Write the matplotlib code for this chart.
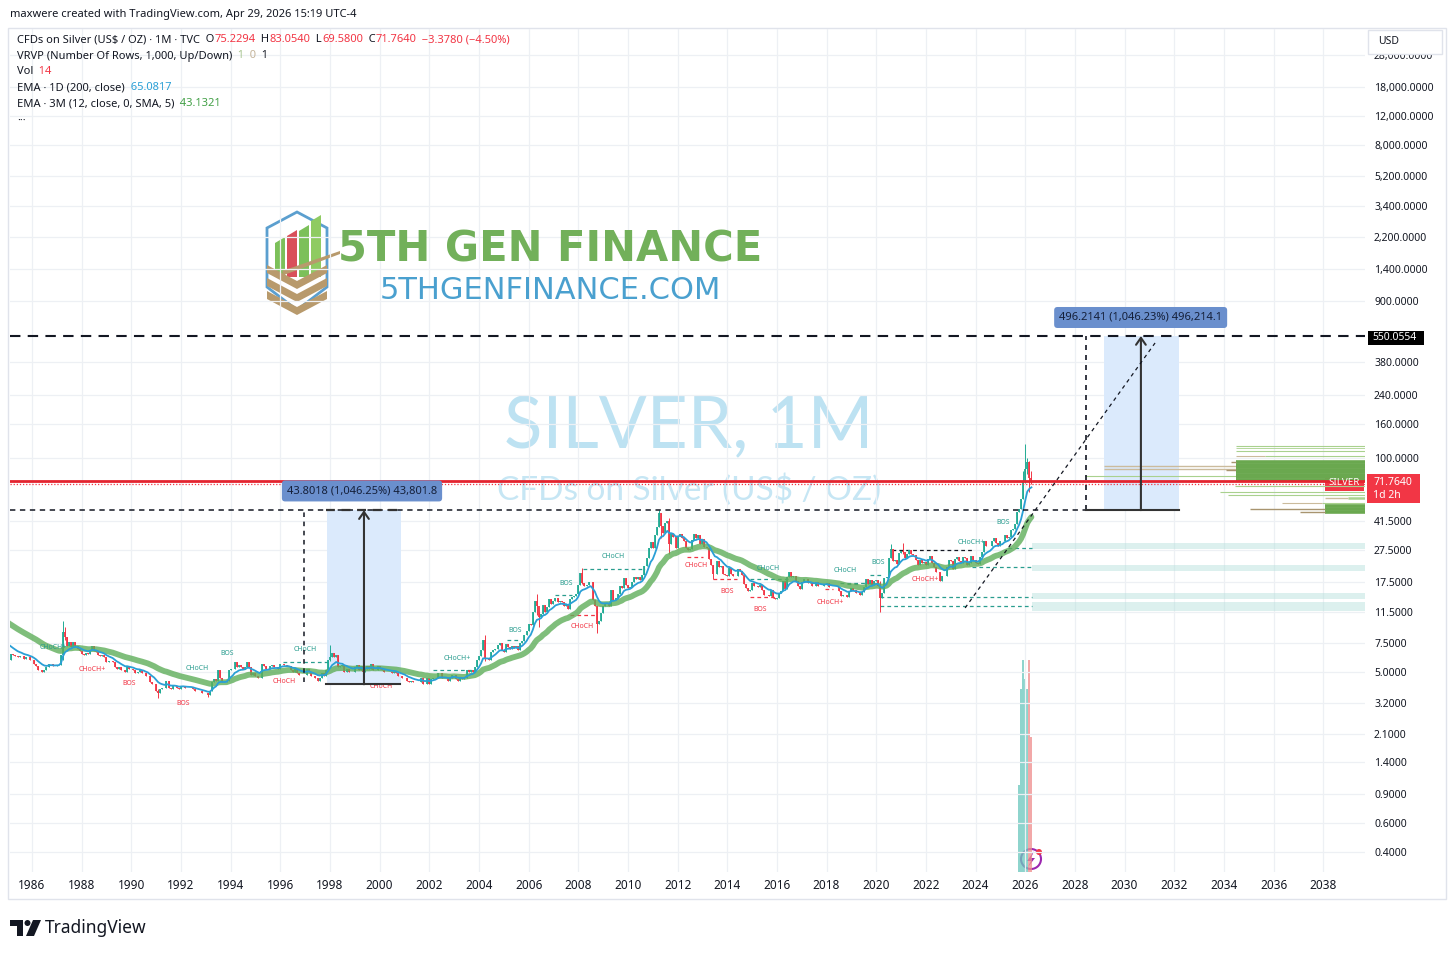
import numpy as np
import pandas as pd
import matplotlib
matplotlib.use('Agg')
import matplotlib.pyplot as plt
from matplotlib.patches import Rectangle, Polygon, Circle
from matplotlib.transforms import IdentityTransform
from matplotlib.offsetbox import TextArea, HPacker, AnnotationBbox
from matplotlib.ticker import NullLocator, NullFormatter

W, H = 1456, 957
plt.rcParams['font.family'] = ['Noto Sans', 'DejaVu Sans']

# monthly closes, TVC silver, starting Jan 1983 (1983-84 only warm the EMAs up)
first_year = 1983
closes = [
    13.3, 14.3, 10.9, 12.6, 12.6, 11.0, 11.6, 12.0, 11.9, 9.2, 9.3, 9.1,   # 1983
    8.5, 9.6, 10.0, 9.2, 9.0, 8.8, 7.3, 7.8, 7.4, 7.3, 7.6, 6.4,          # 1984
    6.2, 5.9, 6.4, 6.3, 6.2, 6.1, 6.2, 6.2, 6.0, 6.1, 6.1, 5.9,           # 1985
    5.9, 5.6, 5.4, 5.1, 5.1, 5.0, 5.1, 5.3, 5.6, 5.6, 5.4, 5.4,           # 1986
    5.5, 5.5, 6.3, 8.7, 8.1, 7.2, 7.6, 7.1, 7.6, 7.2, 6.9, 6.7,           # 1987
    6.4, 6.3, 6.5, 6.4, 6.8, 7.2, 6.7, 6.6, 6.3, 6.2, 6.3, 6.1,           # 1988
    5.7, 5.8, 5.8, 5.7, 5.3, 5.2, 5.3, 5.1, 5.1, 5.0, 5.4, 5.2,           # 1989
    5.2, 5.1, 4.9, 5.0, 5.1, 4.9, 4.9, 4.7, 4.7, 4.3, 4.2, 4.2,           # 1990
    3.8, 3.7, 3.9, 4.0, 4.0, 4.4, 4.0, 3.9, 4.1, 4.1, 4.0, 3.9,           # 1991
    4.1, 4.1, 4.0, 4.0, 4.0, 4.0, 3.9, 3.8, 3.8, 3.8, 3.7, 3.7,           # 1992
    3.7, 3.6, 3.8, 4.3, 4.5, 4.4, 5.1, 4.6, 4.3, 4.3, 4.4, 5.1,           # 1993
    5.2, 5.2, 5.7, 5.3, 5.5, 5.3, 5.2, 5.3, 5.7, 5.3, 4.8, 4.9,           # 1994
    4.7, 4.6, 4.6, 5.6, 5.4, 5.2, 5.2, 5.4, 5.5, 5.3, 5.3, 5.2,           # 1995
    5.6, 5.6, 5.5, 5.4, 5.4, 5.1, 5.0, 5.2, 4.9, 4.8, 4.8, 4.8,           # 1996
    4.8, 5.2, 5.0, 4.7, 4.7, 4.6, 4.4, 4.6, 4.9, 4.7, 5.1, 5.9,           # 1997
    6.1, 6.5, 6.1, 6.3, 5.3, 5.4, 5.5, 5.0, 5.2, 5.0, 5.0, 5.0,           # 1998
    5.3, 5.5, 5.1, 5.4, 5.0, 5.2, 5.4, 5.2, 5.6, 5.1, 5.1, 5.4,           # 1999
    5.2, 5.1, 5.0, 5.0, 5.0, 5.0, 4.9, 5.0, 4.9, 4.7, 4.7, 4.6,           # 2000
    4.6, 4.4, 4.3, 4.4, 4.3, 4.3, 4.3, 4.3, 4.6, 4.2, 4.2, 4.6,           # 2001
    4.2, 4.5, 4.6, 4.6, 4.9, 4.9, 4.6, 4.6, 4.6, 4.4, 4.6, 4.8,           # 2002
    4.8, 4.5, 4.4, 4.6, 4.5, 4.6, 5.1, 5.0, 5.1, 5.0, 5.3, 5.9,           # 2003
    6.2, 6.8, 7.8, 6.0, 6.0, 5.9, 6.6, 6.8, 6.9, 7.3, 7.5, 6.8,           # 2004
    6.6, 7.4, 7.1, 6.9, 7.2, 7.0, 7.2, 6.8, 7.5, 7.7, 8.3, 8.8,           # 2005
    9.8, 9.6, 11.5, 13.4, 12.6, 10.8, 11.2, 12.7, 11.5, 12.4, 13.9, 12.9,  # 2006
    13.5, 14.1, 13.3, 13.4, 13.2, 12.5, 12.9, 12.0, 13.8, 14.2, 14.4, 14.8,  # 2007
    16.8, 19.9, 17.2, 16.5, 16.9, 17.5, 17.6, 13.6, 12.6, 9.7, 10.2, 11.3,  # 2008
    12.6, 13.1, 13.1, 12.5, 15.6, 13.6, 14.0, 14.9, 16.6, 16.2, 18.6, 16.9,  # 2009
    16.2, 16.4, 17.5, 18.7, 18.4, 18.7, 18.0, 19.4, 22.1, 24.7, 28.4, 30.9,  # 2010
    28.2, 34.0, 37.9, 46.0, 38.5, 34.9, 40.0, 41.5, 29.9, 34.6, 32.8, 28.2,  # 2011
    33.2, 34.6, 32.4, 31.2, 28.4, 27.4, 27.9, 31.6, 34.6, 32.3, 34.0, 30.0,  # 2012
    31.9, 28.5, 28.3, 24.1, 22.3, 19.7, 19.7, 23.6, 21.7, 21.9, 19.5, 19.4,  # 2013
    19.2, 21.3, 19.7, 19.0, 19.0, 21.0, 20.4, 19.4, 17.1, 16.2, 15.5, 15.6,  # 2014
    17.2, 16.6, 16.6, 16.3, 16.8, 15.6, 14.7, 14.6, 14.5, 15.6, 14.1, 13.8,  # 2015
    14.1, 15.0, 15.4, 17.9, 16.0, 18.7, 20.3, 18.7, 19.2, 17.7, 16.5, 16.0,  # 2016
    17.5, 18.4, 18.2, 17.3, 17.5, 16.6, 16.7, 17.6, 16.6, 16.7, 16.5, 16.9,  # 2017
    17.3, 16.4, 16.3, 16.3, 16.4, 16.3, 15.5, 14.5, 14.6, 14.7, 14.2, 15.5,  # 2018
    16.1, 15.6, 15.1, 15.0, 14.6, 15.3, 16.4, 18.4, 17.0, 18.1, 16.9, 17.9,  # 2019
    18.0, 16.7, 14.0, 15.0, 18.6, 18.7, 24.4, 28.0, 23.7, 23.9, 22.6, 26.4,  # 2020
    26.9, 26.7, 24.5, 25.9, 27.5, 26.0, 25.5, 24.0, 22.2, 24.0, 23.0, 23.3,  # 2021
    22.4, 24.3, 25.1, 23.0, 21.6, 20.3, 20.3, 17.8, 19.0, 19.2, 21.5, 24.0,  # 2022
    23.6, 20.9, 24.1, 25.0, 23.6, 22.8, 24.8, 24.5, 22.2, 22.9, 25.3, 23.8,  # 2023
    23.0, 22.7, 24.9, 26.6, 31.3, 29.1, 28.9, 28.9, 31.2, 32.7, 30.5, 28.9,  # 2024
    31.3, 31.1, 34.1, 32.6, 33.0, 36.1, 36.7, 39.7, 46.6, 48.7, 56.4, 71.0,  # 2025
    85.0, 93.9, 75.2294, 71.764,                                            # 2026
]

# wick extremes that stand out on the chart: month -> (high, low)
wicks = {
    '1987-04': (10.1, 5.9), '1987-05': (9.3, 7.8), '1991-02': (3.9, 3.46),
    '1993-02': (3.7, 3.5), '1998-01': (7.3, 5.8), '2004-04': (8.3, 5.8),
    '2006-05': (14.9, 11.0), '2006-06': (11.6, 9.4), '2008-03': (21.2, 17.0),
    '2008-10': (12.5, 8.6), '2011-04': (47.99, 37.8), '2011-05': (46.0, 32.5),
    '2011-09': (43.0, 26.1), '2013-06': (22.3, 18.2), '2020-03': (17.9, 11.5),
    '2020-08': (29.8, 24.6), '2021-02': (30.1, 25.8), '2025-12': (83.0, 56.0),
    '2026-01': (120.5, 70.5), '2026-02': (99.5, 80.0), '2026-03': (95.0, 62.0),
    '2026-04': (83.054, 69.58),
}

# volume (only the CFD's recent months carry volume), Oct 2025 .. Apr 2026
vol_start = 2025 + 9 / 12
vol_values = [9, 19, 22, 20, 19, 22, 14]

# visible range volume profile rows (price, up volume, down volume)
vp_price = [118, 114, 110, 102.5, 89.5, 86.0, 77.5, 67.1, 62.1, 59.4, 52.9,
            94.2, 90.9, 87.8, 84.7, 81.7, 78.9, 76.1, 73.4, 56.6, 50.9, 48.6, 46.6]
vp_up = [129, 129, 129, 100, 0, 0, 280, 130, 145, 137, 43,
         129, 129, 129, 129, 129, 129, 129, 129, 17, 40, 40, 40]
vp_down = [0, 0, 0, 29, 261, 261, 0, 0, 0, 0, 40,
           5, 0, 0, 10, 0, 0, 0, 0, 23, 0, 75, 25]
vp_lw = [0.8, 0.6, 0.8, 0.8, 1.0, 1.0, 0.8, 0.8, 0.8, 0.8, 0.8,
         2.6, 2.6, 2.6, 2.6, 2.6, 2.6, 2.6, 2.6, 1.8, 2.6, 2.6, 2.6]

# smart money concept labels
lab_year = [1986.85, 1992.65, 1993.85, 1996.99, 2003.12, 2005.45, 2007.51, 2009.40,
            2015.64, 2018.74, 2020.07, 2023.82, 2025.11,
            1988.42, 1989.91, 1992.08, 1996.15, 2000.06, 2008.15, 2012.74,
            2013.99, 2015.32, 2018.14, 2021.96]
lab_price = [6.97, 5.19, 6.40, 6.77, 5.97, 8.84, 17.1, 24.9, 21.3, 20.5, 22.9, 30.3, 40.1,
             5.12, 4.21, 3.22, 4.33, 4.05, 9.35, 22.0, 15.3, 11.9, 13.1, 18.1]
lab_text = ['CHoCH+', 'CHoCH', 'BOS', 'CHoCH', 'CHoCH+', 'BOS', 'BOS', 'CHoCH',
            'CHoCH', 'CHoCH', 'BOS', 'CHoCH+', 'BOS',
            'CHoCH+', 'BOS', 'BOS', 'CHoCH', 'CHoCH', 'CHoCH', 'CHoCH',
            'BOS', 'BOS', 'CHoCH+', 'CHoCH+']
lab_bull = [True] * 13 + [False] * 11

# structure levels (start, end, price, kind)
seg_x0 = [1996.11, 2002.15, 2005.13, 2007.06, 2007.67, 2008.19, 2012.38, 2013.43, 2014.92,
          2014.92, 2017.94, 2018.82, 2019.75, 2020.64, 2025.31, 2023.86, 2020.15, 2020.15, 2018.54]
seg_x1 = [1997.92, 2003.84, 2005.65, 2007.75, 2008.67, 2010.69, 2013.02, 2014.39, 2015.92,
          2016.45, 2018.26, 2019.35, 2020.27, 2023.90, 2026.27, 2026.27, 2026.27, 2026.27, 2019.87]
seg_price = [5.72, 5.1, 7.8, 14.6, 11.06, 21.1, 25.0, 18.2, 14.2,
             18.2, 16.0, 17.1, 19.4, 27.5, 28.2, 21.7, 14.3, 12.5, 17.3]
seg_kind = ['bull', 'bull', 'bull', 'bull', 'bear', 'bull', 'bear', 'bear', 'bear',
            'bull', 'bear', 'bull', 'bull', 'black', 'bull', 'bull', 'bull', 'bull', 'bull']

# order block zones (low, high), from 2026.27 to the right edge
zone_low = [27.9, 20.5, 13.8, 11.7]
zone_high = [30.3, 22.3, 15.0, 13.3]

# measure tool drawings
m1_low, m1_high = 4.1866, 47.99
m2_low, m2_high = 47.99, 550.0554
last_price, last_low = 71.764, 69.58

price_ticks = [0.4, 0.6, 0.9, 1.4, 2.1, 3.2, 5.0, 7.5, 11.5, 17.5, 27.5, 41.5, 100, 160,
               240, 380, 900, 1400, 2200, 3400, 5200, 8000, 12000, 18000, 28000]
year_ticks = list(range(1986, 2039, 2))

UP, DOWN, DARK = '#22ab94', '#f23645', '#131722'
TEAL_LAB = '#2a9d8f'

# ---------------------------------------------------------------- series
n = len(closes)
t = first_year + np.arange(n) / 12
c = np.array(closes)
o = np.r_[c[0], c[:-1]]
hi = np.maximum(o, c)
lo = np.minimum(o, c)
keys = ['%d-%02d' % (first_year + i // 12, i % 12 + 1) for i in range(n)]
for i, k in enumerate(keys):
    if k in wicks:
        hi[i], lo[i] = wicks[k]
s = pd.Series(c)
ema_fast = s.ewm(alpha=0.19, adjust=False).mean().values
ema_slow = s.ewm(span=36, adjust=False).mean().values
vis = t >= 1985.0

x_left, x_right = 1985.114, 2039.685
px_year = 24.83

fig = plt.figure(figsize=(W / 100, H / 100), dpi=100)
PIX = IdentityTransform()


def box(x0, y0, x1, y1):
    return [x0 / W, 1 - y1 / H, (x1 - x0) / W, (y1 - y0) / H]


def frect(x0, y0, x1, y1, **kw):
    r = Rectangle((x0, H - y1), x1 - x0, y1 - y0, transform=PIX, **kw)
    fig.add_artist(r)
    return r


def fcircle(x, y, r, **kw):
    fig.add_artist(Circle((x, H - y), r, transform=PIX, **kw))


def ftext(x, y, s, **kw):
    return fig.text(x / W, 1 - y / H, s, **kw)


def fpoly(pts, **kw):
    p = Polygon([(x, H - y) for x, y in pts], closed=True, transform=PIX, **kw)
    fig.add_artist(p)


axv = fig.add_axes(box(10, 29, 1365, 872))
ax = fig.add_axes(box(10, 29, 1365, 872))
axv.set_zorder(1)
ax.set_zorder(2)
ax.patch.set_alpha(0)
axv.axis('off')

# volume
vt = vol_start + np.arange(len(vol_values)) / 12
vi = [np.argmin(np.abs(t - x)) for x in vt]
vcol = ['#6cc8be' if c[i] >= o[i] else '#ef8e8e' for i in vi]
axv.vlines(vt, 0, vol_values, colors=vcol, lw=1.1)
axv.set_xlim(x_left, x_right)
axv.set_ylim(0, 87.4)

ax.set_yscale('log')
ax.set_xlim(x_left, x_right)
ax.set_ylim(0.302, 40550)

# watermark
ax.text(0.501, 0.527, 'SILVER, 1M', transform=ax.transAxes, ha='center', va='center',
        fontsize=51, color='#bde2f2', family='Lato', zorder=0.5)
ax.text(0.501, 0.4537, 'CFDs on Silver (US\\$ / OZ)', transform=ax.transAxes, ha='center',
        va='center', fontsize=24, color='#c6e6f4', family='Lato', zorder=0.5)

# grid
ax.set_yticks(price_ticks)
ax.yaxis.set_minor_locator(NullLocator())
ax.yaxis.set_minor_formatter(NullFormatter())
ax.set_yticklabels(['{:,.4f}'.format(v) for v in price_ticks])
ax.yaxis.tick_right()
ax.set_xticks(year_ticks)
ax.set_xticklabels([str(y) for y in year_ticks])
ax.tick_params(axis='y', length=0, pad=6.5, labelsize=7.5, labelcolor=DARK)
ax.tick_params(axis='x', length=0, pad=5, labelsize=8.5, labelcolor=DARK)
ax.grid(True, color='#edf0f4', lw=0.9)
ax.set_axisbelow(True)
for sp in ax.spines.values():
    sp.set_visible(False)

# order block zones and structure levels
for zl, zh in zip(zone_low, zone_high):
    ax.add_patch(Rectangle((2026.27, zl), x_right - 2026.27, zh - zl, color='#b2dfdb',
                           alpha=0.45, lw=0, zorder=1))
seg_col = {'bull': TEAL_LAB, 'bear': DOWN, 'black': DARK}
for x0, x1, p, k in zip(seg_x0, seg_x1, seg_price, seg_kind):
    ax.plot([x0, x1], [p, p], color=seg_col[k], lw=0.9, dashes=(3, 2.5), zorder=2)

# measure rectangles
ax.add_patch(Rectangle((1997.88, m1_low), 2.98, m1_high - m1_low, color='#dbeafc', lw=0, zorder=1))
ax.add_patch(Rectangle((2029.17, m2_low), 3.02, m2_high - m2_low, color='#dbeafc', lw=0, zorder=1))

# volume profile
for p, u, d, w in sorted(zip(vp_price, vp_up, vp_down, vp_lw), key=lambda r: r[3]):
    strong = w >= 2
    g = '#6aa84f' if strong else '#a9d18e'
    tcol = '#a8946f' if strong else '#cbbb9c'
    if u:
        ax.plot([x_right - u / px_year, x_right], [p, p], color=g, lw=w, solid_capstyle='butt', zorder=2)
    if d:
        ax.plot([x_right - (u + d) / px_year, x_right - u / px_year], [p, p], color=tcol,
                lw=min(w, 1.0), solid_capstyle='butt', zorder=2)

# candles
up = (c >= o) & vis
dn = (c < o) & vis
for m, col in ((up, UP), (dn, DOWN)):
    ax.vlines(t[m], lo[m], hi[m], color=col, lw=0.7, zorder=3)
    ax.vlines(t[m], o[m], c[m], color=col, lw=1.3, zorder=3)

ax.plot(t[vis], ema_slow[vis], color='#5fae5a', lw=4.2, alpha=0.8, zorder=4, solid_capstyle='round')
ax.plot(t[vis], ema_fast[vis], color='#2a9fd6', lw=1.3, zorder=5)

for x, p, s_, b in zip(lab_year, lab_price, lab_text, lab_bull):
    ax.text(x, p, s_, fontsize=5, color=TEAL_LAB if b else DOWN, ha='center', va='center', zorder=5)

# price lines
ax.axhline(last_price, color='#e3242f', lw=2.0, zorder=6)
ax.axhline(last_low, color=DOWN, lw=0.9, ls=(0, (1, 1.5)), zorder=6)
ax.plot([x_left, x_right], [m2_high] * 2, color=DARK, lw=1.5, dashes=(5, 3.5), zorder=6)
ax.plot([x_left, 2028.45], [m1_high] * 2, color=DARK, lw=1.1, dashes=(3.5, 3), zorder=6)

# measure 1
ax.plot([1996.95, 1996.95], [4.3, m1_high], color=DARK, lw=1.1, dashes=(3, 3), zorder=6)
ax.plot([1997.84, 2000.82], [m1_low] * 2, color='#333333', lw=1.5, zorder=6)
ax.plot([1997.84, 2000.82], [m1_high] * 2, color='#333333', lw=1.6, dashes=(4, 3), zorder=6)
ax.annotate('', xy=(1999.37, m1_high), xytext=(1999.37, m1_low),
            arrowprops=dict(arrowstyle='->,head_length=0.5,head_width=0.35', color='#333333',
                            lw=1.5, shrinkA=0, shrinkB=0), zorder=6)
ax.text(1999.29, 62.8, '43.8018 (1,046.25%) 43,801.8', ha='center', va='center', fontsize=8,
        color='#15203a', zorder=7,
        bbox=dict(boxstyle='round,pad=0.45,rounding_size=0.3', fc='#6a8fcd', ec='none'))

# measure 2
ax.plot([2028.45, 2028.45], [m2_low, m2_high], color=DARK, lw=1.2, dashes=(3, 3), zorder=6)
ax.plot([2028.45, 2032.19], [m2_low] * 2, color='#333333', lw=1.5, zorder=6)
ax.annotate('', xy=(2030.66, m2_high), xytext=(2030.66, m2_low),
            arrowprops=dict(arrowstyle='->,head_length=0.5,head_width=0.35', color='#333333',
                            lw=1.5, shrinkA=0, shrinkB=0), zorder=6)
ax.plot([2023.58, 2031.23], [12.2, 499], color=DARK, lw=0.9, dashes=(3, 3), zorder=6)
ax.text(2030.65, 713, '496.2141 (1,046.23%) 496,214.1', ha='center', va='center', fontsize=8,
        color='#15203a', zorder=7,
        bbox=dict(boxstyle='round,pad=0.45,rounding_size=0.3', fc='#6a8fcd', ec='none'))

# ---------------------------------------------------------------- frame and labels
frect(8, 28, 1446, 899, fill=False, ec='#e0e3eb', lw=1)
ftext(10, 14, 'maxwere created with TradingView.com, Apr 29, 2026 15:19 UTC-4',
      fontsize=8, color=DARK, va='center', weight='medium')


def legend_line(y, parts):
    areas = [TextArea(s_, textprops=dict(color=col, fontsize=8)) for s_, col in parts]
    pk = HPacker(children=areas, align='baseline', pad=0, sep=0)
    ab = AnnotationBbox(pk, (17, H - y), xycoords='figure pixels', box_alignment=(0, 0.5),
                        frameon=False, pad=0, annotation_clip=False)
    ax.add_artist(ab)


legend_line(40, [('CFDs on Silver (US\\$ / OZ) · 1M · TVC', DARK), ('  O', DARK), ('75.2294', DOWN),
                 ('  H', DARK), ('83.0540', DOWN), ('  L', DARK), ('69.5800', DOWN),
                 ('  C', DARK), ('71.7640', DOWN), ('  −3.3780 (−4.50%)', DOWN)])
legend_line(56, [('VRVP (Number Of Rows, 1,000, Up/Down)', DARK), ('  1', '#a5c38c'),
                 ('  0', '#c4b49a'), ('  1', DARK)])
legend_line(72, [('Vol', DARK), ('  14', DOWN)])
legend_line(88, [('EMA · 1D (200, close)', DARK), ('  65.0817', '#2a9fd6')])
legend_line(104, [('EMA · 3M (12, close, 0, SMA, 5)', DARK), ('  43.1321', '#43a047')])
ftext(17, 121, '···', fontsize=8, color=DARK, va='center')

# price scale labels
frect(1368, 30, 1442, 54, fc='white', ec='#e0e3eb', lw=1, zorder=5)
ftext(1378, 41, 'USD', fontsize=7.5, color=DARK, va='center', zorder=6)
frect(1368, 331, 1424, 345, fc='black', ec='none')
ftext(1372, 338, '550.0554', fontsize=7.5, color='white', va='center')
frect(1367, 474, 1420, 503, fc='#f23645', ec='none')
ftext(1373, 483, '71.7640', fontsize=7.5, color='white', va='center')
ftext(1373, 496, '1d 2h', fontsize=7.5, color='white', va='center')
frect(1325, 475, 1364, 491, fc='#f23645', ec='none')
ftext(1344.5, 483, 'SILVER', fontsize=7, color='white', va='center', ha='center')

# 5th gen finance logo
ftext(550, 250, '5TH GEN FINANCE', fontsize=30, color='#72b05a', weight='bold',
      ha='center', va='center', family='DejaVu Sans')
ftext(550, 291, '5THGENFINANCE.COM', fontsize=22, color='#4aa0cf',
      ha='center', va='center', family='DejaVu Sans')
lx, ly = 262, 205
fpoly([(lx + 35, ly + 7), (lx + 5, ly + 23), (lx + 5, ly + 82), (lx + 35, ly + 105),
       (lx + 65, ly + 82), (lx + 65, ly + 23)], fill=False, ec='#5b9fcf', lw=2)
for bx, top, col in ((13, 32, '#7cc05a'), (25, 25, '#d9505a'), (37, 20, '#7cc05a'), (49, 10, '#8fcb62')):
    fpoly([(lx + bx, ly + 72), (lx + bx, ly + top + 6), (lx + bx + 10, ly + top),
           (lx + bx + 10, ly + 72)], fc=col, ec='none')
for k in range(3):
    d = 13 * k
    fpoly([(lx + 5, ly + 60 + d), (lx + 35, ly + 76 + d), (lx + 65, ly + 60 + d),
           (lx + 65, ly + 68 + d), (lx + 35, ly + 84 + d), (lx + 5, ly + 68 + d)],
          fc='#b89a6c', ec='none')
fpoly([(lx + 20, ly + 66), (lx + 78, ly + 46), (lx + 78, ly + 49), (lx + 22, ly + 70)],
      fc='#b89a6c', ec='none')

# tradingview logo
fpoly([(10, 920), (23, 920), (23, 936), (17, 936), (17, 926), (10, 926)], fc=DARK, ec='none')
fcircle(27.5, 923, 3, fc=DARK, ec='none')
fpoly([(33, 920), (41, 920), (34, 936), (26, 936)], fc=DARK, ec='none')
ftext(45, 928, 'TradingView', fontsize=12.5, weight='bold', color=DARK, va='center')

# lightning badge
fcircle(1031, 859, 10, fill=False, ec='#9c27b0', lw=1.5)
fpoly([(1034, 851), (1027, 861), (1031, 861), (1028, 867), (1035, 858), (1031, 858)],
      fc='#9c27b0', ec='none')
fcircle(1039, 852, 3, fc='#f23645', ec='none')

fig.savefig('out.png', dpi=100)
